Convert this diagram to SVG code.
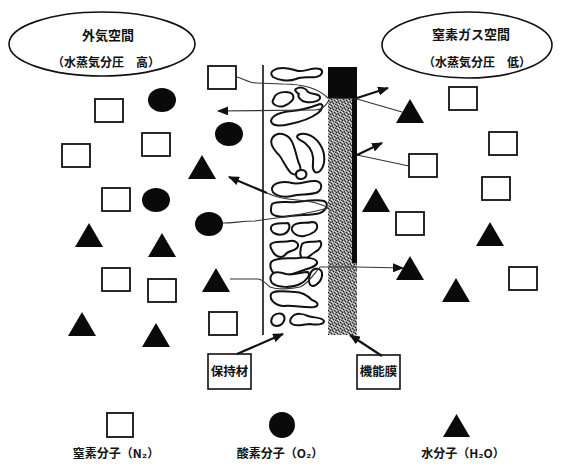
<svg xmlns="http://www.w3.org/2000/svg" xmlns:xlink="http://www.w3.org/1999/xlink" width="561" height="470" viewBox="0 0 561 470">
  <style>
    .t { font-family: "Noto Sans CJK JP", "Noto Sans CJK SC", sans-serif; font-weight: bold; fill: #111; text-anchor: middle; }
    .ell { fill: #fff; stroke: #111; stroke-width: 1.6; }
    .box { fill: #fff; stroke: #111; stroke-width: 1.6; }
    .blob { fill: #fff; stroke: #111; stroke-width: 2; stroke-linejoin: round; }
    .thin { fill: none; stroke: #333; stroke-width: 1.1; }
    .thick { fill: none; stroke: #111; stroke-width: 2.2; }
  </style>
  <defs>
    <marker id="ah" markerUnits="userSpaceOnUse" markerWidth="11" markerHeight="9" refX="10" refY="4.5" orient="auto">
      <path d="M0,0 L11,4.5 L0,9 Z" fill="#111"/>
    </marker>
    <!-- grainy grey fill of the membrane -->
    <pattern id="stipple" width="6" height="6" patternUnits="userSpaceOnUse">
      <rect width="6" height="6" fill="#8e8e8e"/>
      <rect x="0" y="0" width="1" height="1" fill="#222"/>
      <rect x="3" y="1" width="1" height="1" fill="#2a2a2a"/>
      <rect x="5" y="2" width="1" height="1" fill="#333"/>
      <rect x="1" y="3" width="1" height="1" fill="#222"/>
      <rect x="4" y="4" width="1" height="1" fill="#2a2a2a"/>
      <rect x="2" y="5" width="1" height="1" fill="#333"/>
      <rect x="4" y="0" width="1" height="1" fill="#e6e6e6"/>
      <rect x="1" y="1" width="1" height="1" fill="#d8d8d8"/>
      <rect x="2" y="2" width="1" height="1" fill="#ececec"/>
      <rect x="5" y="3" width="1" height="1" fill="#dcdcdc"/>
      <rect x="0" y="4" width="1" height="1" fill="#e8e8e8"/>
      <rect x="3" y="5" width="1" height="1" fill="#d4d4d4"/>
      <rect x="2" y="0" width="1" height="1" fill="#555"/>
      <rect x="4" y="2" width="1" height="1" fill="#bbb"/>
      <rect x="0" y="2" width="1" height="1" fill="#666"/>
      <rect x="3" y="3" width="1" height="1" fill="#c2c2c2"/>
      <rect x="5" y="5" width="1" height="1" fill="#555"/>
    </pattern>
    <rect id="sq" width="28" height="23" fill="#fff" stroke="#111" stroke-width="1.8"/>
    <ellipse id="ci" cx="14" cy="12" rx="14" ry="12" fill="#0a0a0a"/>
    <path id="tr" d="M14,0 L28,24 L0,24 Z" fill="#0a0a0a"/>
  </defs>

  <rect width="561" height="470" fill="#fff"/>

  <!-- outside air space -->
  <g id="outside-space">
    <ellipse class="ell" cx="102" cy="44" rx="93" ry="32"/>
    <text class="t" x="108" y="40" font-size="13">外気空間</text>
    <text class="t" x="106" y="67" font-size="12">（水蒸気分圧　高）</text>
  </g>

  <!-- nitrogen gas space -->
  <g id="nitrogen-space">
    <ellipse class="ell" cx="467" cy="45" rx="85" ry="33"/>
    <text class="t" x="471" y="39" font-size="13">窒素ガス空間</text>
    <text class="t" x="477" y="67" font-size="12">（水蒸気分圧　低）</text>
  </g>

  <!-- retaining material: boundary line and porous pieces -->
  <g id="retainer">
    <line x1="263" y1="65" x2="263" y2="335" stroke="#111" stroke-width="1.6"/>
    <path class="blob" d="M274,70 C280,66 292,69 298,71 C305,72 312,67 320,69 C324,71 322,76 316,77 C308,78 302,76 296,79 C288,82 278,80 273,77 C270,74 271,72 274,70 Z"/>
    <path class="blob" d="M275,96 C279,91 290,91 293,95 C295,100 289,104 284,106 C278,108 271,104 273,100 Z"/>
    <path class="blob" d="M296,89 C300,86 306,88 308,92 C312,95 319,93 320,97 C321,101 312,103 306,102 C300,101 297,96 299,94 C296,92 294,90 296,89 Z"/>
    <path class="blob" d="M271,121 C272,114 282,112 292,111 C302,110 312,107 320,104 C324,104 323,109 318,113 C310,119 300,122 290,124 C282,126 272,127 271,121 Z"/>
    <path class="blob" d="M273,137 C278,131 287,134 291,140 C296,148 296,158 300,166 C302,172 296,177 291,173 C286,168 283,160 279,155 C274,150 268,143 273,137 Z"/>
    <path class="blob" d="M298,135 C306,131 316,137 321,146 C326,155 325,166 320,171 C315,175 312,170 313,164 C314,156 311,148 305,143 C300,140 295,138 298,135 Z"/>
    <path class="blob" d="M296,174 C296,170 302,169 305,171 C308,174 306,179 301,179 C297,179 296,177 296,174 Z"/>
    <path class="blob" d="M272,188 C274,182 284,181 292,183 C300,185 308,180 316,181 C322,182 323,188 318,192 C310,196 300,193 292,196 C282,198 271,195 272,188 Z"/>
    <path class="blob" d="M272,204 C278,200 288,203 296,202 C306,201 316,199 324,201 C329,203 327,210 320,213 C312,216 300,214 290,216 C280,218 270,216 271,210 C271,207 271,206 272,204 Z"/>
    <path class="blob" d="M271,227 C273,222 282,224 288,223 C291,226 289,232 284,234 C278,236 270,233 271,227 Z"/>
    <path class="blob" d="M293,226 C297,221 306,224 312,222 C318,222 319,228 314,232 C308,236 300,238 295,234 C291,231 291,228 293,226 Z"/>
    <path class="blob" d="M271,244 C275,240 284,243 290,241 C296,240 300,244 297,248 C293,252 288,250 285,255 C281,259 275,256 273,252 C271,249 269,246 271,244 Z"/>
    <path class="blob" d="M302,244 C306,240 314,243 320,241 C323,244 320,250 315,252 C310,255 308,259 303,259 C299,257 300,249 302,244 Z"/>
    <path class="blob" d="M271,262 C276,257 288,259 298,258 C306,257 316,258 317,262 C318,266 310,268 304,270 C296,273 286,277 278,276 C272,274 269,267 271,262 Z"/>
    <path class="blob" d="M271,276 C273,271 280,272 286,274 C294,276 300,272 308,272 C311,275 306,281 300,284 C292,288 278,288 272,283 C270,280 270,278 271,276 Z"/>
    <path class="blob" d="M311,272 C314,267 321,268 322,273 C323,279 318,285 313,286 C308,286 308,278 311,272 Z"/>
    <path class="blob" d="M271,294 C275,289 286,292 295,292 C302,292 308,296 312,300 C318,302 320,306 314,307 C304,308 294,305 284,306 C276,306 269,300 271,294 Z"/>
    <path class="blob" d="M272,318 C274,313 282,312 284,316 C286,320 282,326 277,326 C272,326 270,322 272,318 Z"/>
    <path class="blob" d="M292,317 C296,312 304,314 308,316 C314,318 322,317 324,321 C324,325 316,325 310,324 C304,324 296,327 292,324 C289,322 290,319 292,317 Z"/>
  </g>

  <!-- functional membrane -->
  <g id="membrane">
    <rect x="328" y="67" width="29" height="31" fill="#0a0a0a"/>
    <rect x="328" y="98" width="25" height="165" fill="url(#stipple)"/>
    <rect x="352" y="98" width="5" height="165" fill="#0a0a0a"/>
    <rect x="328" y="263" width="29" height="72" fill="url(#stipple)"/>
  </g>

  <!-- molecules -->
  <g id="molecules">
    <use id="n2-1" href="#sq" x="208" y="66"/>
    <use id="n2-2" href="#sq" x="95" y="99"/>
    <use id="n2-3" href="#sq" x="142" y="133"/>
    <use id="n2-4" href="#sq" x="62" y="144"/>
    <use id="n2-5" href="#sq" x="102" y="188"/>
    <use id="n2-6" href="#sq" x="102" y="268"/>
    <use id="n2-7" href="#sq" x="148" y="279"/>
    <use id="n2-8" href="#sq" x="209" y="312"/>
    <use id="n2-9" href="#sq" x="449" y="87"/>
    <use id="n2-10" href="#sq" x="489" y="132"/>
    <use id="n2-11" href="#sq" x="409" y="154"/>
    <use id="n2-12" href="#sq" x="482" y="177"/>
    <use id="n2-13" href="#sq" x="396" y="212"/>
    <use id="n2-14" href="#sq" x="509" y="267"/>
    <use id="o2-1" href="#ci" x="148" y="88"/>
    <use id="o2-2" href="#ci" x="215" y="122"/>
    <use id="o2-3" href="#ci" x="142" y="188"/>
    <use id="o2-4" href="#ci" x="195" y="212"/>
    <use id="h2o-1" href="#tr" x="188" y="155"/>
    <use id="h2o-2" href="#tr" x="75" y="223"/>
    <use id="h2o-3" href="#tr" x="148" y="233"/>
    <use id="h2o-4" href="#tr" x="202" y="268"/>
    <use id="h2o-5" href="#tr" x="68" y="312"/>
    <use id="h2o-6" href="#tr" x="142" y="323"/>
    <use id="h2o-7" href="#tr" x="396" y="99"/>
    <use id="h2o-8" href="#tr" x="362" y="188"/>
    <use id="h2o-9" href="#tr" x="476" y="222"/>
    <use id="h2o-10" href="#tr" x="396" y="256"/>
    <use id="h2o-11" href="#tr" x="442" y="278"/>
  </g>

  <!-- label boxes -->
  <g id="label-retainer">
    <rect class="box" x="208" y="354" width="43" height="35"/>
    <text class="t" x="229.5" y="376" font-size="12.5">保持材</text>
  </g>
  <g id="label-membrane">
    <rect class="box" x="357" y="355" width="43" height="34"/>
    <text class="t" x="378.5" y="376" font-size="12.5">機能膜</text>
  </g>

  <!-- legend -->
  <g id="legend-n2">
    <rect x="107" y="413" width="26" height="24" fill="#fff" stroke="#111" stroke-width="1.8"/>
    <text class="t" x="116" y="458" font-size="12">窒素分子（N₂）</text>
  </g>
  <g id="legend-o2">
    <circle cx="282" cy="425" r="13" fill="#0a0a0a"/>
    <text class="t" x="280" y="458" font-size="12">酸素分子（O₂）</text>
  </g>
  <g id="legend-h2o">
    <path d="M456.5,414 L470,437 L443,437 Z" fill="#0a0a0a"/>
    <text class="t" x="463" y="458" font-size="12">水分子（H₂O）</text>
  </g>

  <!-- connectors -->
  <g id="connectors">
    <path class="thin" d="M237,77 C245,79 248,83 256,83 L283,84 C300,84 318,88 328,98 L357,99"/>
    <path class="thin" d="M329,100 C326,106 322,110 315,110 L218,111" marker-end="url(#ah)"/>
    <path class="thick" d="M357,98 L388,88" marker-end="url(#ah)"/>
    <path class="thin" d="M357,99 L402,112" stroke-width="1.5"/>
    <path class="thin" d="M409,166 L357,155" stroke-width="1.5"/>
    <path class="thick" d="M357,155 L382,143" marker-end="url(#ah)"/>
    <path class="thick" d="M267,193 L229,177" marker-end="url(#ah)"/>
    <path class="thin" d="M267,193 C275,197 285,199 297,200 C310,201 320,203 328,208"/>
    <path class="thin" d="M223,223 C235,223 240,221 255,221 L262,220 C285,217 310,213 328,208"/>
    <path class="thin" d="M230,279 L258,279 C264,280 266,284 270,287 C278,290 292,289 300,287 C308,284 314,274 320,267 L357,267 L403,268" marker-end="url(#ah)"/>
    <path class="thick" d="M237,354 L283,334" marker-end="url(#ah)"/>
    <path class="thick" d="M382,356 L350,335" marker-end="url(#ah)"/>
  </g>
</svg>
